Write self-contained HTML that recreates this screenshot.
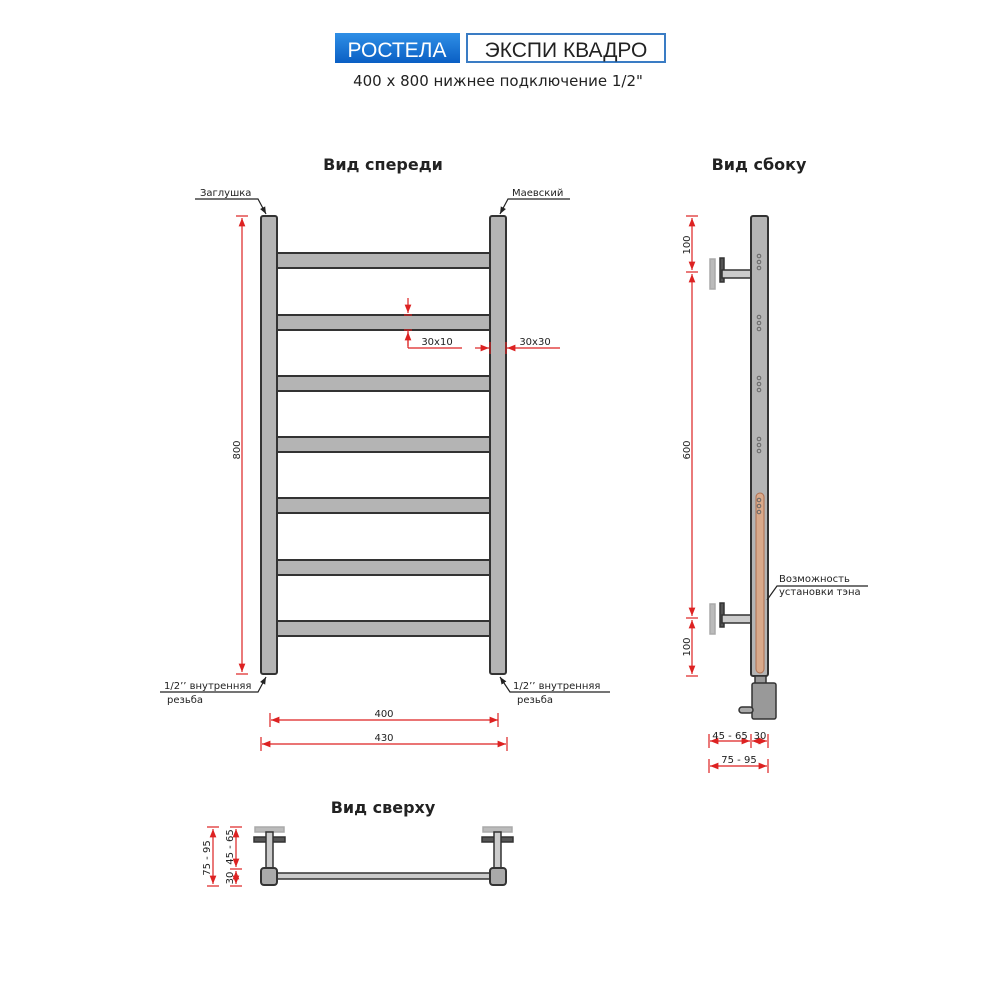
<!DOCTYPE html>
<html><head><meta charset="utf-8"><style>
html,body{margin:0;padding:0;background:#fff;width:1000px;height:1000px;overflow:hidden}
svg text{font-family:"DejaVu Sans","Liberation Sans",sans-serif;fill:#222}
</style></head><body>
<svg width="1000" height="1000" viewBox="0 0 1000 1000" xmlns="http://www.w3.org/2000/svg">
<defs>
<linearGradient id="blue" x1="0" y1="0" x2="0" y2="1"><stop offset="0" stop-color="#2f8fe6"/><stop offset="1" stop-color="#0a5fc4"/></linearGradient>
<marker id="ar" viewBox="0 0 10 10" refX="10" refY="5" markerWidth="7" markerHeight="7" orient="auto-start-reverse"><path d="M0,1 L10,5 L0,9 z" fill="#d22"/></marker>
<marker id="ak" viewBox="0 0 10 10" refX="10" refY="5" markerWidth="6" markerHeight="6" orient="auto"><path d="M0,1 L10,5 L0,9 z" fill="#222"/></marker>
</defs>
<!-- header -->
<rect x="335" y="33" width="125" height="30" fill="url(#blue)"/>
<text x="397" y="57" font-size="21" text-anchor="middle" style="fill:#fff;font-family:'Liberation Sans',sans-serif">РОСТЕЛА</text>
<rect x="467" y="34" width="198" height="28" fill="#fff" stroke="#3a7cc4" stroke-width="2"/>
<text x="566" y="57" font-size="21" text-anchor="middle" style="font-family:'Liberation Sans',sans-serif">ЭКСПИ КВАДРО</text>
<text x="498" y="86" font-size="15" text-anchor="middle">400 x 800 нижнее подключение 1/2"</text>

<text x="383" y="170" font-size="16" font-weight="bold" text-anchor="middle">Вид спереди</text>
<text x="759" y="170" font-size="16" font-weight="bold" text-anchor="middle">Вид сбоку</text>
<text x="383" y="813" font-size="16" font-weight="bold" text-anchor="middle">Вид сверху</text>

<!-- front view bars -->
<g fill="#b4b4b4" stroke="#333" stroke-width="2">
<rect x="277" y="253" width="213" height="15"/>
<rect x="277" y="315" width="213" height="15"/>
<rect x="277" y="376" width="213" height="15"/>
<rect x="277" y="437" width="213" height="15"/>
<rect x="277" y="498" width="213" height="15"/>
<rect x="277" y="560" width="213" height="15"/>
<rect x="277" y="621" width="213" height="15"/>
<rect x="261" y="216" width="16" height="458" rx="2"/>
<rect x="490" y="216" width="16" height="458" rx="2"/>
</g>
<!-- labels front -->
<g stroke="#222" stroke-width="1.2" fill="none">
<polyline points="195,199 258,199 266,214" marker-end="url(#ak)"/>
<polyline points="570,199 508,199 500,214" marker-end="url(#ak)"/>
<polyline points="160,692 258,692 266,677" marker-end="url(#ak)"/>
<polyline points="610,692 510,692 500,677" marker-end="url(#ak)"/>
</g>
<text x="200" y="196" font-size="10">Заглушка</text>
<text x="512" y="196" font-size="10">Маевский</text>
<text x="164" y="689" font-size="10">1/2’’ внутренняя</text>
<text x="167" y="703" font-size="10">резьба</text>
<text x="513" y="689" font-size="10">1/2’’ внутренняя</text>
<text x="517" y="703" font-size="10">резьба</text>
<!-- red dims front -->
<g stroke="#d22" stroke-width="1.2" fill="none">
<line x1="242" y1="218" x2="242" y2="672" marker-start="url(#ar)" marker-end="url(#ar)"/>
<line x1="236" y1="216" x2="248" y2="216"/><line x1="236" y1="674" x2="248" y2="674"/>
<line x1="408" y1="298" x2="408" y2="313" marker-end="url(#ar)"/>
<line x1="408" y1="346" x2="408" y2="332" marker-end="url(#ar)"/>
<line x1="404" y1="315" x2="412" y2="315"/><line x1="404" y1="330" x2="412" y2="330"/>
<line x1="408" y1="330" x2="408" y2="348"/><line x1="408" y1="348" x2="462" y2="348"/>
<line x1="475" y1="348" x2="489" y2="348" marker-end="url(#ar)"/>
<line x1="560" y1="348" x2="507" y2="348" marker-end="url(#ar)"/>
<line x1="490" y1="342" x2="490" y2="354"/><line x1="506" y1="342" x2="506" y2="354"/>
<line x1="271" y1="720" x2="498" y2="720" marker-start="url(#ar)" marker-end="url(#ar)"/>
<line x1="270" y1="713" x2="270" y2="727"/><line x1="498" y1="713" x2="498" y2="727"/>
<line x1="262" y1="744" x2="506" y2="744" marker-start="url(#ar)" marker-end="url(#ar)"/>
<line x1="261" y1="737" x2="261" y2="751"/><line x1="507" y1="737" x2="507" y2="751"/>
</g>
<text x="240" y="450" font-size="10" text-anchor="middle" transform="rotate(-90 240 450)">800</text>
<text x="437" y="345" font-size="10" text-anchor="middle">30x10</text>
<text x="535" y="345" font-size="10" text-anchor="middle">30x30</text>
<text x="384" y="717" font-size="10" text-anchor="middle">400</text>
<text x="384" y="741" font-size="10" text-anchor="middle">430</text>

<!-- side view -->
<g stroke="#333" stroke-width="1.5">
<rect x="710" y="259" width="5" height="30" fill="#bbb" stroke="#aaa"/>
<rect x="720" y="258" width="4" height="24" fill="#555"/>
<rect x="722" y="270" width="29" height="8" fill="#ccc"/>
<rect x="710" y="604" width="5" height="30" fill="#bbb" stroke="#aaa"/>
<rect x="720" y="603" width="4" height="24" fill="#555"/>
<rect x="722" y="615" width="29" height="8" fill="#ccc"/>
<rect x="751" y="216" width="17" height="460" rx="2" fill="#b4b4b4" stroke-width="2"/>
<rect x="756" y="493" width="8" height="180" rx="4" fill="#d9a98a" stroke="#b07050" stroke-width="1"/>
<rect x="755" y="676" width="11" height="8" fill="#999"/>
<rect x="752" y="683" width="24" height="36" rx="2" fill="#999"/>
<rect x="739" y="707" width="14" height="6" rx="3" fill="#aaa"/>
</g>
<g fill="none" stroke="#666" stroke-width="1">
<circle cx="759" cy="256" r="1.8"/><circle cx="759" cy="262" r="1.8"/><circle cx="759" cy="268" r="1.8"/>
<circle cx="759" cy="317" r="1.8"/><circle cx="759" cy="323" r="1.8"/><circle cx="759" cy="329" r="1.8"/>
<circle cx="759" cy="378" r="1.8"/><circle cx="759" cy="384" r="1.8"/><circle cx="759" cy="390" r="1.8"/>
<circle cx="759" cy="439" r="1.8"/><circle cx="759" cy="445" r="1.8"/><circle cx="759" cy="451" r="1.8"/>
<circle cx="759" cy="500" r="1.8"/><circle cx="759" cy="506" r="1.8"/><circle cx="759" cy="512" r="1.8"/>
</g>
<g stroke="#222" stroke-width="1.2" fill="none">
<polyline points="868,586 777,586 767,600"/>
</g>
<text x="779" y="582" font-size="10">Возможность</text>
<text x="779" y="595" font-size="10">установки тэна</text>
<g stroke="#d22" stroke-width="1.2" fill="none">
<line x1="692" y1="218" x2="692" y2="270" marker-start="url(#ar)" marker-end="url(#ar)"/>
<line x1="692" y1="274" x2="692" y2="616" marker-start="url(#ar)" marker-end="url(#ar)"/>
<line x1="692" y1="620" x2="692" y2="674" marker-start="url(#ar)" marker-end="url(#ar)"/>
<line x1="686" y1="216" x2="698" y2="216"/><line x1="686" y1="272" x2="698" y2="272"/>
<line x1="686" y1="618" x2="698" y2="618"/><line x1="686" y1="676" x2="698" y2="676"/>
<line x1="710" y1="741" x2="750" y2="741" marker-start="url(#ar)" marker-end="url(#ar)"/>
<line x1="752" y1="741" x2="767" y2="741" marker-start="url(#ar)" marker-end="url(#ar)"/>
<line x1="709" y1="734" x2="709" y2="748"/><line x1="751" y1="734" x2="751" y2="748"/><line x1="768" y1="734" x2="768" y2="748"/>
<line x1="710" y1="766" x2="767" y2="766" marker-start="url(#ar)" marker-end="url(#ar)"/>
<line x1="709" y1="759" x2="709" y2="773"/><line x1="768" y1="759" x2="768" y2="773"/>
</g>
<text x="690" y="245" font-size="10" text-anchor="middle" transform="rotate(-90 690 245)">100</text>
<text x="690" y="450" font-size="10" text-anchor="middle" transform="rotate(-90 690 450)">600</text>
<text x="690" y="647" font-size="10" text-anchor="middle" transform="rotate(-90 690 647)">100</text>
<text x="730" y="739" font-size="10" text-anchor="middle">45 - 65</text>
<text x="760" y="739" font-size="10" text-anchor="middle">30</text>
<text x="739" y="763" font-size="10" text-anchor="middle">75 - 95</text>

<!-- top view -->
<g stroke="#333" stroke-width="1.5">
<rect x="255" y="827" width="29" height="5" fill="#bbb" stroke="#aaa"/>
<rect x="254" y="837" width="31" height="5" fill="#555"/>
<rect x="266" y="832" width="7" height="37" fill="#ccc"/>
<rect x="483" y="827" width="29" height="5" fill="#bbb" stroke="#aaa"/>
<rect x="482" y="837" width="31" height="5" fill="#555"/>
<rect x="494" y="832" width="7" height="37" fill="#ccc"/>
<rect x="276" y="873" width="215" height="6" fill="#ccc"/>
<rect x="261" y="868" width="16" height="17" rx="3" fill="#aaa" stroke-width="2"/>
<rect x="490" y="868" width="16" height="17" rx="3" fill="#aaa" stroke-width="2"/>
</g>
<g stroke="#d22" stroke-width="1.2" fill="none">
<line x1="213" y1="829" x2="213" y2="884" marker-start="url(#ar)" marker-end="url(#ar)"/>
<line x1="207" y1="827" x2="219" y2="827"/><line x1="207" y1="886" x2="219" y2="886"/>
<line x1="236" y1="829" x2="236" y2="867" marker-start="url(#ar)" marker-end="url(#ar)"/>
<line x1="236" y1="871" x2="236" y2="884" marker-start="url(#ar)" marker-end="url(#ar)"/>
<line x1="230" y1="827" x2="242" y2="827"/><line x1="230" y1="869" x2="242" y2="869"/><line x1="230" y1="886" x2="242" y2="886"/>
</g>
<text x="210" y="858" font-size="10" text-anchor="middle" transform="rotate(-90 210 858)">75 - 95</text>
<text x="233" y="847" font-size="10" text-anchor="middle" transform="rotate(-90 233 847)">45 - 65</text>
<text x="233" y="878" font-size="10" text-anchor="middle" transform="rotate(-90 233 878)">30</text>
</svg>
</body></html>
